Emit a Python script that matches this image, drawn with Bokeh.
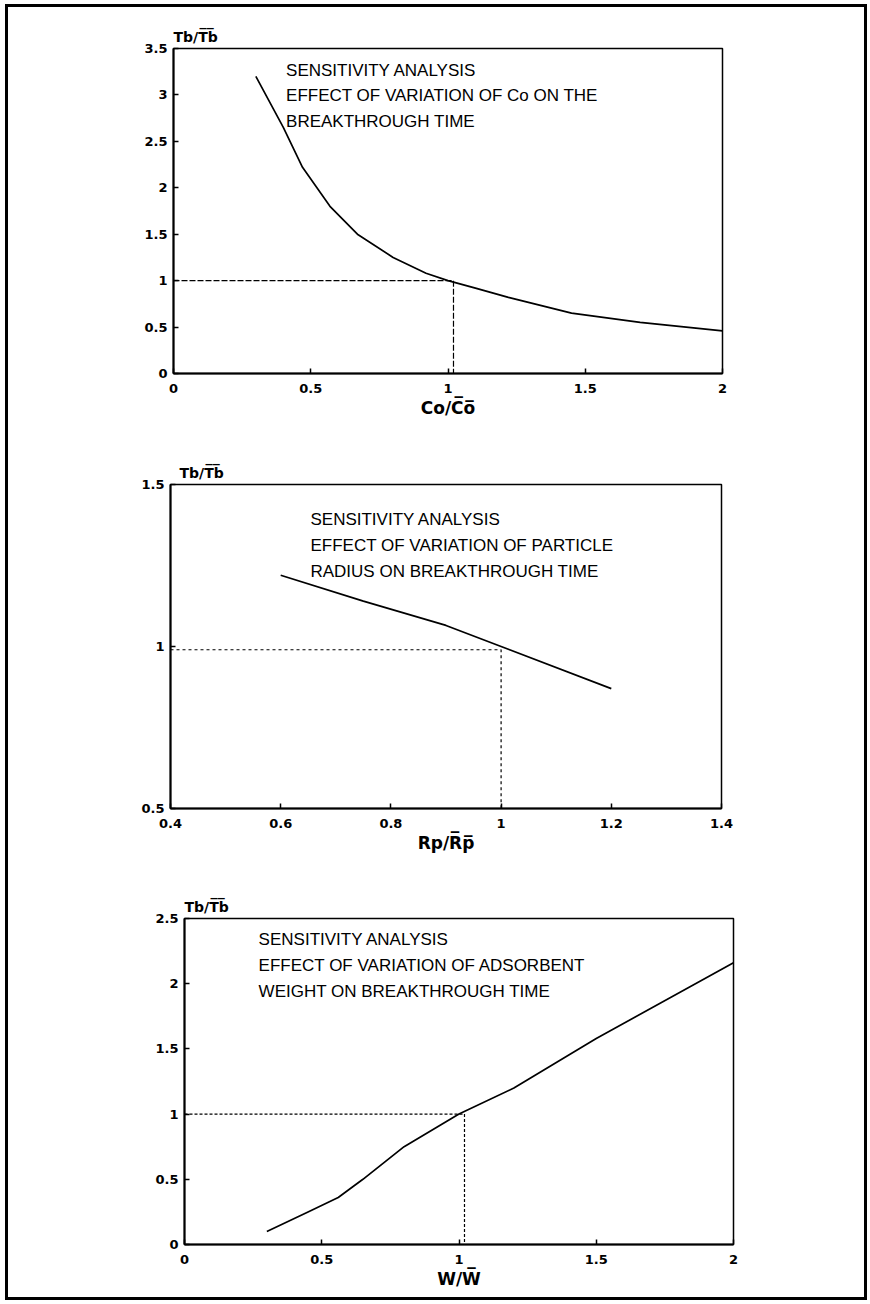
from bokeh.plotting import figure
from bokeh.layouts import column
from bokeh.models import Range1d, FixedTicker, NumeralTickFormatter, Label
from bokeh.embed import file_html
from bokeh.resources import INLINE

# ---------------- data ----------------
# Panel 1: effect of Co
co_x = [0.3, 0.4, 0.47, 0.57, 0.67, 0.8, 0.92, 1.0, 1.1, 1.22, 1.45, 1.7, 2.0]
co_y = [3.2, 2.65, 2.22, 1.8, 1.5, 1.25, 1.08, 1.0, 0.92, 0.82, 0.65, 0.55, 0.46]
co_ref_x = [0.0, 1.02, 1.02]
co_ref_y = [1.0, 1.0, 0.0]
co_xticks = [0, 0.5, 1, 1.5, 2]
co_yticks = [0, 0.5, 1, 1.5, 2, 2.5, 3, 3.5]

# Panel 2: effect of particle radius
rp_x = [0.6, 0.75, 0.9, 1.0, 1.2]
rp_y = [1.22, 1.14, 1.065, 1.0, 0.87]
rp_ref_x = [0.4, 1.0, 1.0]
rp_ref_y = [0.99, 0.99, 0.5]
rp_xticks = [0.4, 0.6, 0.8, 1, 1.2, 1.4]
rp_yticks = [0.5, 1, 1.5]

# Panel 3: effect of adsorbent weight
w_x = [0.3, 0.45, 0.56, 0.65, 0.8, 1.0, 1.2, 1.5, 2.0]
w_y = [0.1, 0.25, 0.36, 0.5, 0.75, 1.0, 1.2, 1.58, 2.16]
w_ref_x = [0.0, 1.02, 1.02]
w_ref_y = [1.0, 1.0, 0.0]
w_xticks = [0, 0.5, 1, 1.5, 2]
w_yticks = [0, 0.5, 1, 1.5, 2, 2.5]

ylabel = "Tb/T\u0305b\u0305"
texts = [
    "SENSITIVITY ANALYSIS\nEFFECT OF VARIATION OF Co ON THE\nBREAKTHROUGH TIME",
    "SENSITIVITY ANALYSIS\nEFFECT OF VARIATION OF PARTICLE\nRADIUS ON BREAKTHROUGH TIME",
    "SENSITIVITY ANALYSIS\nEFFECT OF VARIATION OF ADSORBENT\nWEIGHT ON BREAKTHROUGH TIME",
]
xlabels = ["Co/C\u0305o\u0305", "Rp/R\u0305p\u0305", "W/W\u0305"]


def panel(xs, ys, rx, ry, xr, yr, xt, yt, xlabel, text, tx, ty, dash,
          fw, fh, bl, br, bt, bb, ylab_dx):
    p = figure(frame_width=fw, frame_height=fh,
               x_range=Range1d(*xr), y_range=Range1d(*yr),
               output_backend="svg", toolbar_location=None,
               min_border_left=bl, min_border_right=br,
               min_border_top=bt, min_border_bottom=bb,
               title=ylabel, title_location="above")
    p.title.align = "left"
    p.title.offset = ylab_dx
    p.title.standoff = 8
    p.title.text_font = "DejaVu Sans"
    p.title.text_font_style = "bold"
    p.title.text_font_size = "14px"
    p.title.text_color = "black"
    p.xgrid.visible = False
    p.ygrid.visible = False
    p.outline_line_color = "black"
    p.outline_line_width = 1.5
    p.outline_line_alpha = 1.0
    p.background_fill_color = "white"
    p.border_fill_color = "white"
    p.xaxis.ticker = FixedTicker(ticks=xt)
    p.yaxis.ticker = FixedTicker(ticks=yt)
    for ax in (p.xaxis[0], p.yaxis[0]):
        ax.formatter = NumeralTickFormatter(format="0.[0]")
        ax.major_tick_in = 5
        ax.major_tick_out = 0
        ax.minor_tick_line_color = None
        ax.axis_line_color = "black"
        ax.axis_line_width = 2
        ax.major_tick_line_color = "black"
        ax.major_tick_line_width = 1.5
        ax.major_label_text_font = "DejaVu Sans"
        ax.major_label_text_font_style = "bold"
        ax.major_label_text_font_size = "13px"
        ax.major_label_text_color = "black"
    p.xaxis.major_label_standoff = 10
    p.yaxis.major_label_standoff = 6
    p.xaxis.axis_label = xlabel
    p.xaxis.axis_label_text_font = "DejaVu Sans"
    p.xaxis.axis_label_text_font_style = "bold"
    p.xaxis.axis_label_text_font_size = "17px"
    p.xaxis.axis_label_text_color = "black"
    p.xaxis.axis_label_standoff = 2

    p.line(rx, ry, line_color="black", line_width=1.2, line_dash=dash)
    p.line(xs, ys, line_color="black", line_width=1.7)

    p.add_layout(Label(x=tx, y=ty, text=text, text_font="Liberation Sans",
                       text_font_size="17px", text_color="black",
                       text_baseline="top", text_align="left",
                       text_line_height=1.35))
    return p


p1 = panel(co_x, co_y, co_ref_x, co_ref_y, (0, 2), (0, 3.5), co_xticks,
           co_yticks, xlabels[0], texts[0], 0.41, 3.37, "6 2",
           549, 325, 165, 142, 41, 67, 0)
p2 = panel(rp_x, rp_y, rp_ref_x, rp_ref_y, (0.4, 1.4), (0.5, 1.5), rp_xticks,
           rp_yticks, xlabels[1], texts[1], 0.654, 1.42, "3 3",
           551, 324, 162, 143, 44, 67, 9)
p3 = panel(w_x, w_y, w_ref_x, w_ref_y, (0, 2), (0, 2.5), w_xticks,
           w_yticks, xlabels[2], texts[2], 0.27, 2.41, "3 2",
           549, 326, 176, 131, 43, 53, 0)

B = "3px solid black"
c1 = column(p1, styles={"border-top": B, "border-left": B, "border-right": B,
                        "margin-left": "5px", "margin-top": "4px",
                        "background": "white"})
c2 = column(p2, styles={"border-left": B, "border-right": B,
                        "margin-left": "5px", "background": "white"})
c3 = column(p3, styles={"border-bottom": B, "border-left": B,
                        "border-right": B, "margin-left": "5px",
                        "background": "white"})

open("out.html", "w").write(file_html([c1, c2, c3], INLINE))
